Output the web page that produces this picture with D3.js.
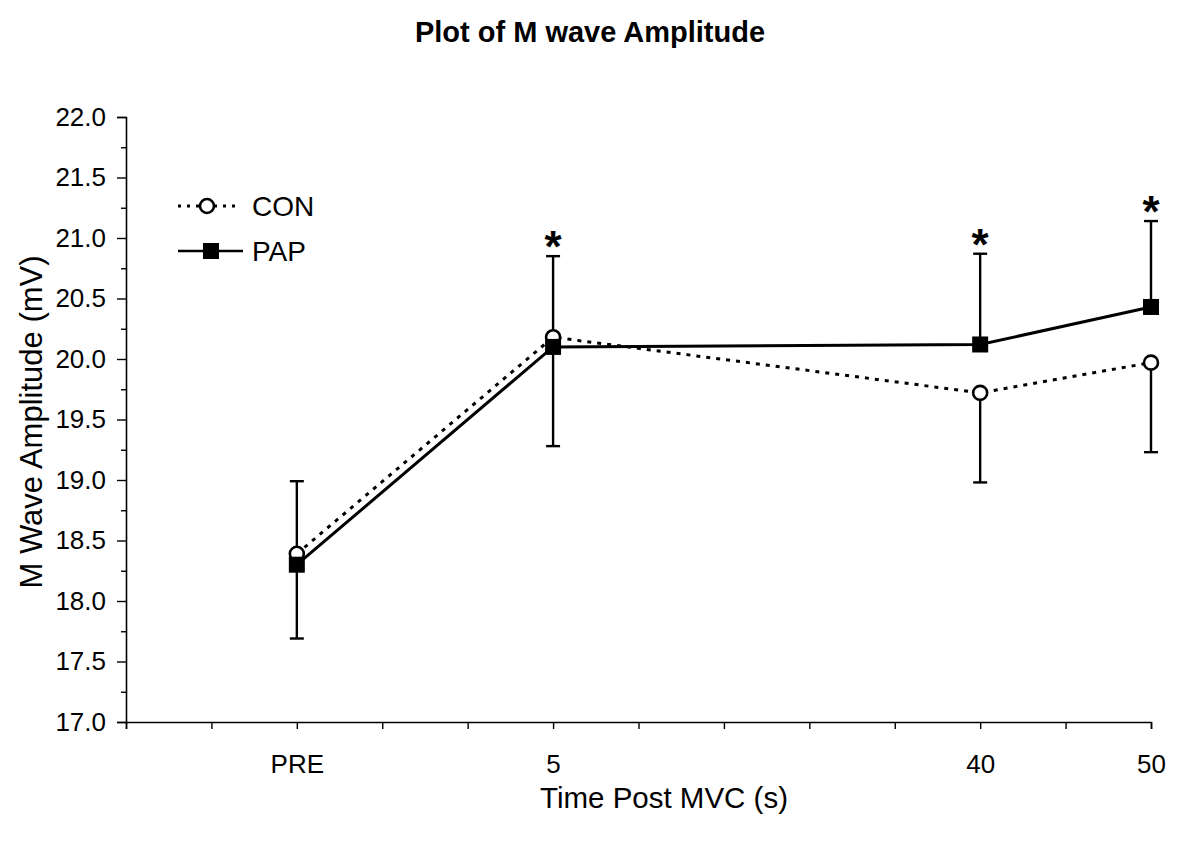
<!DOCTYPE html>
<html>
<head>
<meta charset="utf-8">
<script src="https://cdn.jsdelivr.net/npm/d3@7"></script>
<style>
  body { margin: 0; background: #fff; }
  text { font-family: "Liberation Sans", Arial, sans-serif; fill: #000; }
</style>
</head>
<body>
<div id="chart"></div>
<script>
// Time points sit on an evenly ticked axis (0..12), labels only at the data points
const timeLabels = ["PRE", "5", "40", "50"];
const timePos = [2, 5, 10, 12];
const conMean = [18.39, 20.18, 19.72, 19.97];
const conSD = [0.70, 0.90, 0.74, 0.74];   // drawn downward
const papMean = [18.30, 20.10, 20.12, 20.43];
const papSD = [0.69, 0.75, 0.75, 0.71];   // drawn upward
const significant = [false, true, true, true];
const yTicks = [17.0, 17.5, 18.0, 18.5, 19.0, 19.5, 20.0, 20.5, 21.0, 21.5, 22.0];

const W = 1179, H = 846;
const margin = { top: 117, right: 28, bottom: 124, left: 126 };
const width = W - margin.left - margin.right;
const height = H - margin.top - margin.bottom;

const svg = d3.select("#chart").append("svg")
  .attr("width", W).attr("height", H);

const g = svg.append("g")
  .attr("transform", `translate(${margin.left},${margin.top})`);

const x = d3.scaleLinear().domain([0, 12]).range([0, width]);
const y = d3.scaleLinear().domain([17, 22]).range([height, 0]);

// Title
svg.append("text")
  .attr("x", 590).attr("y", 42)
  .attr("text-anchor", "middle")
  .attr("font-size", "29px").attr("font-weight", "bold")
  .text("Plot of M wave Amplitude");

// Y axis: major ticks + minor ticks
const yAxis = g.append("g")
  .call(d3.axisLeft(y).tickValues(yTicks).tickFormat(d3.format(".1f")).tickSize(9).tickPadding(11));
yAxis.selectAll("text").attr("font-size", "26px");
g.append("g")
  .call(d3.axisLeft(y).tickValues(d3.range(17.25, 22, 0.5)).tickFormat("").tickSize(5))
  .select(".domain").remove();

// X axis
const xAxis = g.append("g")
  .attr("transform", `translate(0,${height})`)
  .call(d3.axisBottom(x).tickValues(d3.range(0, 13)).tickSize(7).tickPadding(26)
    .tickFormat(d => {
      const i = timePos.indexOf(d);
      return i >= 0 ? timeLabels[i] : "";
    }));
xAxis.selectAll("text").attr("font-size", "26px");
g.selectAll(".domain").attr("stroke-width", 1.6);
g.selectAll(".tick line").attr("stroke-width", 1.4);

// Axis titles
svg.append("text")
  .attr("transform", `translate(42,${margin.top + 305}) rotate(-90)`)
  .attr("text-anchor", "middle")
  .attr("font-size", "31px")
  .text("M Wave Amplitude (mV)");

svg.append("text")
  .attr("x", 664).attr("y", 808)
  .attr("text-anchor", "middle")
  .attr("font-size", "29.5px")
  .text("Time Post MVC (s)");

const capW = 7;

// Error bars
timePos.forEach((t, i) => {
  const cx = x(t);
  // PAP upward
  g.append("line").attr("x1", cx).attr("x2", cx)
    .attr("y1", y(papMean[i])).attr("y2", y(papMean[i] + papSD[i]))
    .attr("stroke", "#000").attr("stroke-width", 2.4);
  g.append("line").attr("x1", cx - capW).attr("x2", cx + capW)
    .attr("y1", y(papMean[i] + papSD[i])).attr("y2", y(papMean[i] + papSD[i]))
    .attr("stroke", "#000").attr("stroke-width", 2.4);
  // CON downward
  g.append("line").attr("x1", cx).attr("x2", cx)
    .attr("y1", y(conMean[i])).attr("y2", y(conMean[i] - conSD[i]))
    .attr("stroke", "#000").attr("stroke-width", 2.4);
  g.append("line").attr("x1", cx - capW).attr("x2", cx + capW)
    .attr("y1", y(conMean[i] - conSD[i])).attr("y2", y(conMean[i] - conSD[i]))
    .attr("stroke", "#000").attr("stroke-width", 2.4);
});

// Lines
const line = d3.line().x(d => x(d[0])).y(d => y(d[1]));
const conPts = timePos.map((t, i) => [t, conMean[i]]);
const papPts = timePos.map((t, i) => [t, papMean[i]]);

g.append("path").datum(conPts).attr("d", line)
  .attr("fill", "none").attr("stroke", "#000")
  .attr("stroke-width", 3).attr("stroke-dasharray", "4,6");
g.append("path").datum(papPts).attr("d", line)
  .attr("fill", "none").attr("stroke", "#000").attr("stroke-width", 3);

// Markers
g.selectAll(".con").data(conPts).enter().append("circle")
  .attr("class", "con")
  .attr("cx", d => x(d[0])).attr("cy", d => y(d[1]))
  .attr("r", 7).attr("fill", "#fff").attr("stroke", "#000").attr("stroke-width", 2.6);
g.selectAll(".pap").data(papPts).enter().append("rect")
  .attr("class", "pap")
  .attr("x", d => x(d[0]) - 8).attr("y", d => y(d[1]) - 8)
  .attr("width", 16).attr("height", 16).attr("fill", "#000");

// Significance markers
timePos.forEach((t, i) => {
  if (!significant[i]) return;
  const top = papMean[i] + papSD[i];
  g.append("text")
    .attr("x", x(t)).attr("y", y(top) + 6)
    .attr("text-anchor", "middle")
    .attr("font-size", "44px").attr("font-weight", "bold")
    .text("*");
});

// Legend
const legend = svg.append("g").attr("transform", "translate(178,0)");
legend.append("line").attr("x1", 0).attr("x2", 62).attr("y1", 206).attr("y2", 206)
  .attr("stroke", "#000").attr("stroke-width", 3).attr("stroke-dasharray", "3,6");
legend.append("circle").attr("cx", 29).attr("cy", 206).attr("r", 7)
  .attr("fill", "#fff").attr("stroke", "#000").attr("stroke-width", 2.6);
legend.append("text").attr("x", 74).attr("y", 216).attr("font-size", "28px").text("CON");
legend.append("line").attr("x1", 0).attr("x2", 65).attr("y1", 251).attr("y2", 251)
  .attr("stroke", "#000").attr("stroke-width", 2.6);
legend.append("rect").attr("x", 25).attr("y", 243).attr("width", 16).attr("height", 16).attr("fill", "#000");
legend.append("text").attr("x", 74).attr("y", 261).attr("font-size", "28px").text("PAP");
</script>
</body>
</html>
